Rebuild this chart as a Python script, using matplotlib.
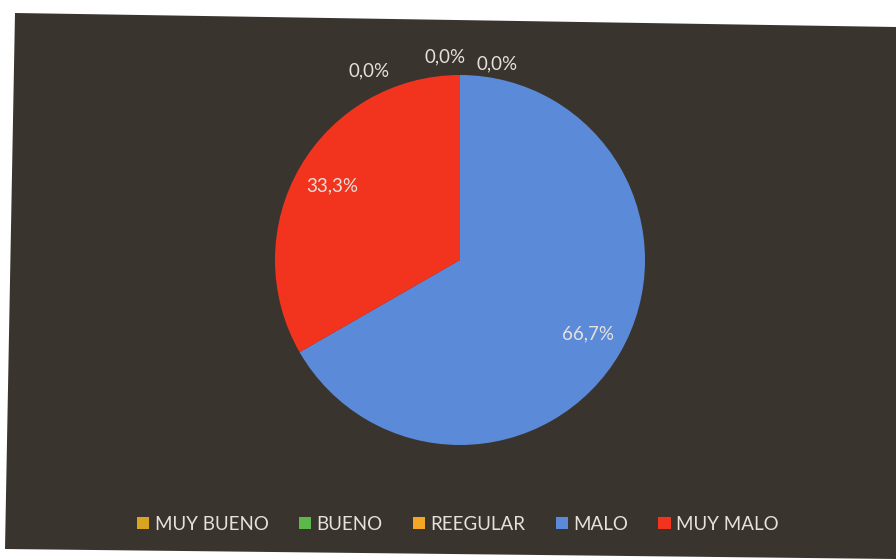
import matplotlib
matplotlib.use("Agg")
import matplotlib.pyplot as plt
from matplotlib.patches import Polygon, Patch
import numpy as np

# datos
categorias = ["MUY BUENO", "BUENO", "REEGULAR", "MALO", "MUY MALO"]
porcentajes = [0.0, 0.0, 0.0, 66.7, 33.3]
colores = ["#d9a521", "#5cb84a", "#f5a623", "#5b8bd8", "#f2341f"]

# posiciones de las etiquetas de 0,0% (fuera del pastel, en radios)
pos_ceros = [(-0.49, 1.02), (-0.08, 1.10), (0.20, 1.06)]

W, H = 896, 559
BG = "#3a342f"
TXT = "#e6e1dc"

plt.rcParams["font.family"] = ["Lato", "DejaVu Sans"]

fig = plt.figure(figsize=(W / 100, H / 100), dpi=100)
fig.patch.set_facecolor("white")

# fondo oscuro (foto ligeramente girada)
esquinas = [(15, 13), (896, 27), (896, 559), (5, 549)]
fondo = Polygon([(x / W, 1 - y / H) for x, y in esquinas], closed=True,
                transform=fig.transFigure, facecolor=BG, edgecolor="none", zorder=-5)
fig.patches.append(fondo)

cx, cy, r = 460, 260, 185
ax = fig.add_axes([(cx - r) / W, (H - cy - r) / H, 2 * r / W, 2 * r / H])
ax.set_facecolor("none")
ax.set_zorder(2)

wedges, _ = ax.pie(porcentajes, colors=colores, startangle=90, counterclock=False,
                   radius=1.0, wedgeprops=dict(linewidth=0))
ax.set_xlim(-1, 1)
ax.set_ylim(-1, 1)
ax.set_aspect("equal")
ax.axis("off")

fmt = lambda v: f"{v:.1f}%".replace(".", ",")
ceros = 0
for w, v in zip(wedges, porcentajes):
    if v == 0:
        x, y = pos_ceros[ceros]
        ceros += 1
    else:
        ang = np.deg2rad((w.theta1 + w.theta2) / 2)
        x, y = 0.8 * np.cos(ang), 0.8 * np.sin(ang)
    ax.text(x, y, fmt(v), ha="center", va="center", fontsize=13.5, color=TXT,
            clip_on=False)

handles = [Patch(facecolor=c, edgecolor="none") for c in colores]
fig.legend(handles, categorias, loc="center", bbox_to_anchor=(458 / W, 1 - 524 / H),
           ncol=5, frameon=False, fontsize=13.5, labelcolor=TXT,
           handlelength=0.65, handleheight=0.65, handletextpad=0.3, columnspacing=1.6)

fig.savefig("out.png", dpi=100, facecolor=fig.get_facecolor())
